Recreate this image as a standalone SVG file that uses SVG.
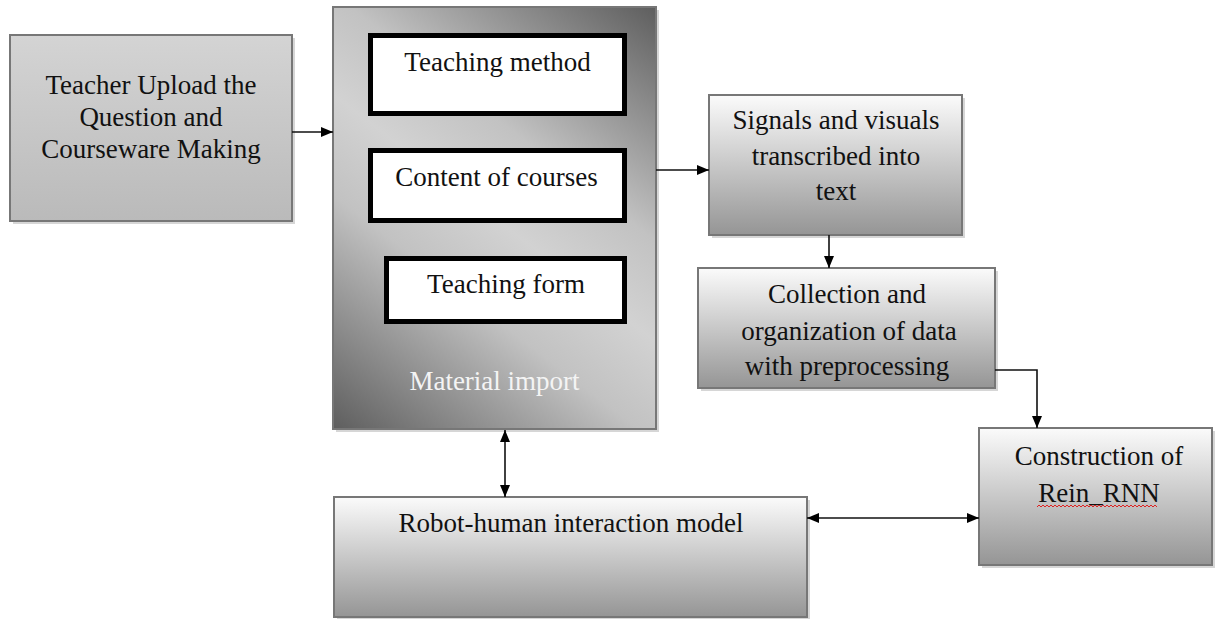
<svg xmlns="http://www.w3.org/2000/svg" width="1216" height="619" viewBox="0 0 1216 619">
<style>
.box{stroke:#777;stroke-width:2}
.sh{fill:#bbb;opacity:0.6}
.inner{fill:#fff;stroke:#000;stroke-width:5}
text{font-family:"Liberation Serif","Times New Roman",serif;font-size:27px;fill:#111;text-anchor:middle}
.wt{fill:#f4f4f4}
.cn{stroke:#111;stroke-width:1.6;fill:none}
</style>
<defs>
<linearGradient id="gTeacher" x1="0" y1="0" x2="0" y2="1">
<stop offset="0" stop-color="#d4d4d4"/><stop offset="1" stop-color="#bababa"/>
</linearGradient>
<linearGradient id="gBox" x1="0" y1="0" x2="0" y2="1">
<stop offset="0" stop-color="#fbfbfb"/><stop offset="1" stop-color="#959595"/>
</linearGradient>
<linearGradient id="gMat" gradientUnits="userSpaceOnUse" x1="656" y1="7" x2="333" y2="429">
<stop offset="0" stop-color="#5e5e5e"/><stop offset="0.35" stop-color="#c2c2c2"/><stop offset="0.5" stop-color="#d2d2d2"/><stop offset="0.65" stop-color="#c2c2c2"/><stop offset="1" stop-color="#5e5e5e"/>
</linearGradient>
<marker id="ah" viewBox="0 0 12 10" refX="12" refY="5" markerWidth="12" markerHeight="10" markerUnits="userSpaceOnUse" orient="auto-start-reverse">
<path d="M0,0 L12,5 L0,10 z" fill="#000"/>
</marker>
</defs>

<g id="teacher">
<rect class="sh" x="13" y="38" width="282" height="186"/>
<rect class="box" x="10" y="35" width="282" height="186" fill="url(#gTeacher)"/>
<text x="151" y="94">Teacher Upload the</text>
<text x="151" y="126">Question and</text>
<text x="151" y="158">Courseware Making</text>
</g>

<g id="material">
<rect class="sh" x="336" y="10" width="323" height="422"/>
<rect class="box" x="333" y="7" width="323" height="422" fill="url(#gMat)"/>
<text class="wt" x="494.5" y="390">Material import</text>
</g>

<g id="teaching-method">
<rect class="inner" x="370.5" y="35.5" width="254" height="78"/>
<text x="497.5" y="71">Teaching method</text>
</g>

<g id="content-of-courses">
<rect class="inner" x="370.5" y="150.5" width="254" height="70"/>
<text x="496.5" y="186">Content of courses</text>
</g>

<g id="teaching-form">
<rect class="inner" x="386.5" y="258.5" width="238" height="63"/>
<text x="506" y="293">Teaching form</text>
</g>

<g id="signals">
<rect class="sh" x="712" y="98" width="253" height="140"/>
<rect class="box" x="709" y="95" width="253" height="140" fill="url(#gBox)"/>
<text x="836" y="129">Signals and visuals</text>
<text x="836" y="165">transcribed into</text>
<text x="836" y="200">text</text>
</g>

<g id="collection">
<rect class="sh" x="701" y="271" width="297" height="120"/>
<rect class="box" x="698" y="268" width="297" height="120" fill="url(#gBox)"/>
<text x="847" y="303">Collection and</text>
<text x="849" y="340">organization of data</text>
<text x="847" y="375">with preprocessing</text>
</g>

<g id="construction">
<rect class="sh" x="982" y="431" width="233" height="137"/>
<rect class="box" x="979" y="428" width="233" height="137" fill="url(#gBox)"/>
<text x="1099" y="465">Construction of</text>
<text x="1099" y="502">Rein_RNN</text>
<path d="M1037,507 l2,-2 l2,2 l2,-2 l2,2 l2,-2 l2,2 l2,-2 l2,2 l2,-2 l2,2 l2,-2 l2,2 l2,-2 l2,2 l2,-2 l2,2 l2,-2 l2,2 l2,-2 l2,2 l2,-2 l2,2 l2,-2 l2,2 l2,-2 l2,2 l2,-2 l2,2 l2,-2 l2,2 l2,-2 l2,2 l2,-2 l2,2 l2,-2 l2,2 l2,-2 l2,2 l2,-2 l2,2 l2,-2 l2,2 l2,-2 l2,2 l2,-2 l2,2 l2,-2 l2,2 l2,-2 l2,2 l2,-2 l2,2 l2,-2 l2,2 l2,-2 l2,2 l2,-2 l2,2 l2,-2 l2,2" fill="none" stroke="#e02020" stroke-width="1"/>
</g>

<g id="robot">
<rect class="sh" x="337" y="500" width="473" height="121"/>
<rect class="box" x="334" y="497" width="473" height="120" fill="url(#gBox)"/>
<text x="571" y="532">Robot-human interaction model</text>
</g>

<g id="connectors">
<line class="cn" x1="292" y1="132" x2="333" y2="132" marker-end="url(#ah)"/>
<line class="cn" x1="656" y1="170" x2="709" y2="170" marker-end="url(#ah)"/>
<line class="cn" x1="829" y1="235" x2="829" y2="268" marker-end="url(#ah)"/>
<polyline class="cn" points="995,370 1037,370 1037,428" marker-end="url(#ah)"/>
<line class="cn" x1="505" y1="430" x2="505" y2="497" marker-start="url(#ah)" marker-end="url(#ah)"/>
<line class="cn" x1="807" y1="518" x2="979" y2="518" marker-start="url(#ah)" marker-end="url(#ah)"/>
</g>
</svg>
